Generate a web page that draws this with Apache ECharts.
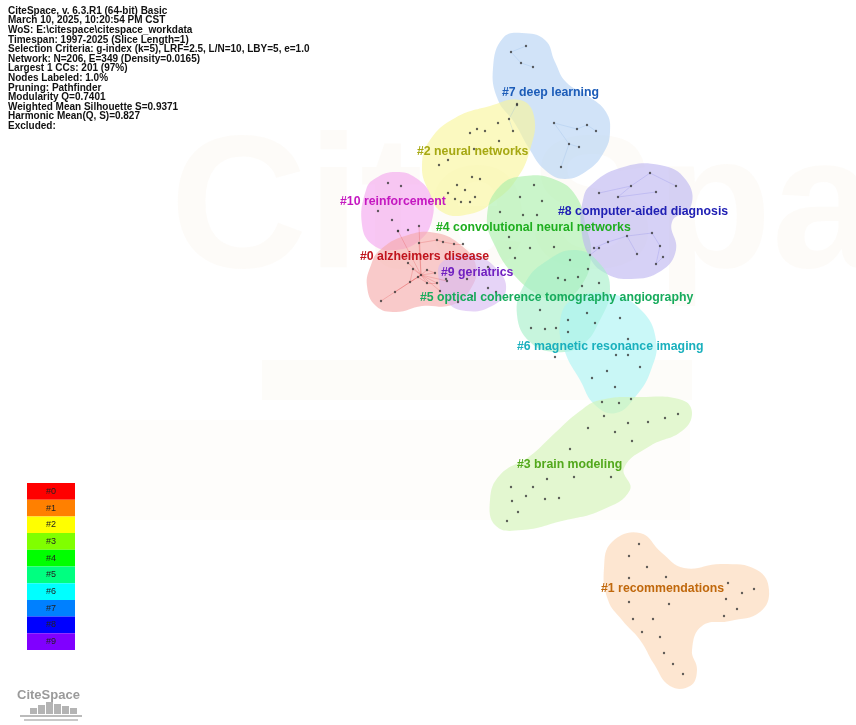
<!DOCTYPE html>
<html>
<head>
<meta charset="utf-8">
<script src="https://cdn.jsdelivr.net/npm/echarts@6/dist/echarts.min.js"></script>
<style>
  html, body { margin: 0; padding: 0; background: #fff; }
  #main { width: 856px; height: 725px; }
</style>
</head>
<body>
<div id="main"></div>
<script>
// cluster names and the palette of the CiteSpace legend
var clusterNames = ['#0 alzheimers disease', '#1 recommendations', '#2 neural networks', '#3 brain modeling',
    '#4 convolutional neural networks', '#5 optical coherence tomography angiography',
    '#6 magnetic resonance imaging', '#7 deep learning', '#8 computer-aided diagnosis', '#9 geriatrics',
    '#10 reinforcement'];
var legendIds = ['#0', '#1', '#2', '#3', '#4', '#5', '#6', '#7', '#8', '#9'];
var legendColors = ['#ff0000', '#ff8000', '#ffff00', '#80ff00', '#00ff00', '#00ff80', '#00ffff', '#0080ff', '#0000ff', '#8000ff'];
var hullColors = ['#f6a9a9', '#fcd6b4', '#f8f69a', '#d2f4b4', '#a9efa9', '#a5efc8', '#a9f4f4', '#b4d2f4', '#bdb4f0', '#d6b9f2', '#f4a4ef'];
var labelColors = ['#c0141c', '#c0680c', '#a6a812', '#52a81c', '#1fae1f', '#17ab5c', '#1ab0bd', '#1c5cb8', '#2020b4', '#7020c0', '#c418c0'];

// label anchor points (left / middle) in picture coordinates
var labelAnchors = [[360, 257], [601, 589], [417, 152], [517, 465], [436, 228], [420, 298], [517, 347], [502, 93], [558, 212], [441, 273], [340, 202]];

// cluster outlines
var hull0 = [[380, 250], [405, 236], [436, 233], [462, 246], [476, 266], [470, 290], [452, 305], [422, 306], [396, 312], [376, 306], [367, 286], [371, 265]];
var hull1 = [[612, 542], [640, 533], [662, 553], [684, 568], [722, 564], [757, 570], [769, 590], [760, 612], [730, 621], [702, 626], [692, 650], [697, 670], [690, 686], [670, 686], [654, 664], [640, 640], [622, 620], [608, 600], [604, 568]];
var hull2 = [[430, 140], [455, 118], [490, 106], [520, 100], [534, 116], [530, 150], [516, 180], [496, 200], [470, 214], [442, 212], [428, 190], [422, 165]];
var hull3 = [[600, 400], [640, 397], [682, 400], [692, 413], [682, 431], [650, 446], [624, 468], [630, 490], [602, 510], [562, 521], [522, 530], [496, 526], [490, 500], [500, 475], [530, 456], [556, 432], [580, 411]];
var hull4 = [[500, 186], [525, 176], [556, 180], [576, 196], [586, 226], [591, 256], [581, 286], [561, 300], [541, 296], [515, 276], [495, 246], [487, 216]];
var hull5 = [[545, 262], [576, 250], [601, 265], [610, 290], [600, 320], [582, 345], [556, 352], [530, 342], [517, 315], [524, 285]];
var hull6 = [[572, 300], [610, 294], [641, 310], [656, 340], [651, 370], [636, 396], [616, 413], [595, 405], [580, 380], [565, 352], [560, 322]];
var hull7 = [[503, 38], [522, 33], [545, 40], [555, 62], [566, 82], [588, 96], [606, 112], [610, 132], [604, 152], [588, 170], [565, 179], [545, 170], [530, 150], [514, 122], [498, 100], [493, 68]];
var hull8 = [[590, 186], [620, 168], [660, 165], [686, 180], [691, 206], [672, 222], [676, 250], [661, 271], [631, 279], [605, 273], [589, 256], [581, 226], [583, 200]];
var hull9 = [[442, 262], [471, 255], [496, 268], [506, 290], [492, 306], [466, 311], [446, 301], [439, 281]];
var hull10 = [[366, 190], [376, 178], [396, 172], [416, 178], [431, 196], [432, 220], [420, 240], [396, 250], [373, 245], [362, 225]];

// nodes per cluster
var nodes0 = [[398, 231], [419, 226], [437, 240], [419, 243], [443, 242], [454, 244], [463, 244], [408, 263], [413, 269], [427, 270], [435, 273], [418, 277], [427, 283], [437, 283], [410, 282], [395, 292], [381, 301], [440, 291], [447, 281], [421, 275]];
var nodes1 = [[639, 544], [629, 556], [647, 567], [666, 577], [629, 578], [728, 583], [742, 593], [754, 589], [726, 599], [629, 602], [669, 604], [737, 609], [724, 616], [653, 619], [633, 619], [642, 632], [660, 637], [664, 653], [673, 664], [683, 674]];
var nodes2 = [[470, 133], [477, 129], [485, 131], [499, 141], [474, 149], [448, 160], [439, 165], [472, 177], [480, 179], [457, 185], [465, 190], [448, 193], [475, 197], [455, 199], [461, 202], [470, 202]];
var nodes3 = [[604, 416], [628, 423], [648, 422], [665, 418], [678, 414], [588, 428], [615, 432], [632, 441], [570, 449], [574, 477], [611, 477], [547, 479], [533, 487], [511, 487], [526, 496], [545, 499], [559, 498], [512, 501], [518, 512], [507, 521]];
var nodes4 = [[534, 185], [520, 197], [542, 201], [500, 212], [523, 215], [537, 215], [509, 237], [530, 248], [554, 247], [510, 248], [515, 258], [558, 278], [578, 277], [588, 269], [570, 260]];
var nodes5 = [[565, 280], [582, 286], [599, 283], [540, 310], [568, 320], [587, 313], [595, 323], [531, 328], [545, 329], [556, 328], [568, 332], [555, 357]];
var nodes6 = [[620, 318], [628, 339], [616, 355], [628, 355], [640, 367], [607, 371], [592, 378], [615, 387], [602, 402], [619, 403], [631, 399]];
var nodes7 = [[511, 52], [526, 46], [521, 63], [533, 67], [517, 104], [509, 119], [513, 131], [554, 123], [577, 129], [587, 125], [596, 131], [569, 144], [579, 147], [561, 167], [517, 105], [498, 123]];
var nodes8 = [[650, 173], [631, 186], [676, 186], [599, 193], [618, 197], [656, 192], [652, 233], [627, 236], [660, 246], [608, 242], [594, 248], [599, 248], [590, 255], [637, 254], [656, 264], [663, 257]];
var nodes9 = [[446, 279], [467, 279], [488, 267], [488, 288], [472, 296], [458, 302], [496, 292]];
var nodes10 = [[388, 183], [401, 186], [378, 211], [398, 231], [408, 230], [392, 220]];

// links of the dense #0 hub (node index pairs inside nodes0)
var links0 = [[19, 7], [19, 8], [19, 9], [19, 10], [19, 11], [19, 12], [19, 13], [19, 14], [19, 15], [19, 16], [19, 17], [19, 18], [19, 1], [19, 3], [19, 0], [9, 10], [8, 14], [12, 13], [3, 2], [2, 4], [4, 5], [5, 6], [11, 12]];
// a few faint links inside #8 and #7
var links8 = [[0, 1], [0, 2], [1, 3], [1, 4], [4, 5], [6, 7], [6, 8], [7, 9], [9, 10], [10, 11], [11, 12], [8, 14], [14, 15], [13, 7]];
var links7 = [[0, 1], [0, 2], [2, 3], [4, 5], [5, 6], [7, 8], [8, 9], [9, 10], [11, 12], [7, 11], [11, 13]];

var infoLines = [
    'CiteSpace, v. 6.3.R1 (64-bit) Basic',
    'March 10, 2025, 10:20:54 PM CST',
    'WoS: E:\\citespace\\citespace_workdata',
    'Timespan: 1997-2025 (Slice Length=1)',
    'Selection Criteria: g-index (k=5), LRF=2.5, L/N=10, LBY=5, e=1.0',
    'Network: N=206, E=349 (Density=0.0165)',
    'Largest 1 CCs: 201 (97%)',
    'Nodes Labeled: 1.0%',
    'Pruning: Pathfinder',
    'Modularity Q=0.7401',
    'Weighted Mean Silhouette S=0.9371',
    'Harmonic Mean(Q, S)=0.827',
    'Excluded:'
];

var hulls = [hull0, hull1, hull2, hull3, hull4, hull5, hull6, hull7, hull8, hull9, hull10];
var nodeSets = [nodes0, nodes1, nodes2, nodes3, nodes4, nodes5, nodes6, nodes7, nodes8, nodes9, nodes10];
var drawOrder = [7, 2, 10, 4, 8, 0, 9, 5, 6, 3, 1];

var chart = echarts.init(document.getElementById('main'));

var series = [];

// blobs
drawOrder.forEach(function (c) {
    series.push({
        type: 'custom',
        silent: true,
        z: 1,
        data: [c],
        renderItem: function (params, api) {
            var pts = hulls[c].map(function (p) { return api.coord(p); });
            return {
                type: 'polygon',
                shape: { points: pts, smooth: 0.45 },
                style: { fill: hullColors[c], opacity: 0.62 }
            };
        }
    });
});

function linkSeries(nodes, links, color, op) {
    return {
        type: 'lines',
        coordinateSystem: 'cartesian2d',
        silent: true,
        z: 2,
        lineStyle: { color: color, width: 0.6, opacity: op },
        data: links.map(function (l) { return { coords: [nodes[l[0]], nodes[l[1]]] }; })
    };
}
series.push(linkSeries(nodes0, links0, '#e05050', 0.45));
series.push(linkSeries(nodes8, links8, '#7070e0', 0.35));
series.push(linkSeries(nodes7, links7, '#70a0e0', 0.3));

// nodes
nodeSets.forEach(function (ns) {
    series.push({
        type: 'scatter',
        silent: true,
        z: 3,
        symbolSize: 2.4,
        itemStyle: { color: '#3a3a3a' },
        data: ns
    });
});

// cluster labels
series.push({
    type: 'custom',
    silent: true,
    z: 5,
    data: clusterNames.map(function (n, i) { return [labelAnchors[i][0], labelAnchors[i][1], i]; }),
    renderItem: function (params, api) {
        var i = api.value(2);
        var p = api.coord([api.value(0), api.value(1)]);
        return {
            type: 'text',
            x: p[0], y: p[1],
            style: {
                text: clusterNames[i],
                fill: labelColors[i],
                font: 'bold 12.3px "Liberation Sans", Arial, sans-serif',
                align: 'left',
                verticalAlign: 'middle'
            }
        };
    }
});

// colour legend cells
series.push({
    type: 'custom',
    silent: true,
    z: 5,
    data: legendIds.map(function (id, i) { return [i]; }),
    renderItem: function (params, api) {
        var i = api.value(0);
        var cellH = 16.7;
        var tl = api.coord([27, 483 + i * cellH]);
        var br = api.coord([75, 483 + (i + 1) * cellH]);
        return {
            type: 'group',
            children: [
                { type: 'rect', shape: { x: tl[0], y: tl[1], width: br[0] - tl[0], height: br[1] - tl[1] }, style: { fill: legendColors[i] } },
                { type: 'text', x: (tl[0] + br[0]) / 2, y: (tl[1] + br[1]) / 2,
                  style: { text: legendIds[i], fill: '#222', font: '9px "Liberation Sans", Arial', align: 'center', verticalAlign: 'middle' } }
            ]
        };
    }
});

var logoBars = [];
[[30, 708, 6], [38, 705, 9], [46, 702, 12], [54, 704, 10], [62, 706, 8], [70, 708, 6]].forEach(function (b) {
    logoBars.push({ type: 'rect', shape: { x: b[0], y: b[1], width: 7, height: b[2] }, style: { fill: '#b4b4b4' } });
});

var option = {
    animation: false,
    backgroundColor: '#ffffff',
    grid: { left: 0, right: 0, top: 0, bottom: 0 },
    xAxis: { type: 'value', min: 0, max: 856, show: false },
    yAxis: { type: 'value', min: 0, max: 725, inverse: true, show: false },
    graphic: [
        // faint watermark
        { type: 'text', left: 170, top: 120, z: 0, silent: true,
          style: { text: 'CiteSpace', fill: 'rgba(225,200,150,0.07)', font: 'bold 190px "Liberation Sans", Arial' } },
        { type: 'rect', z: 0, silent: true, shape: { x: 262, y: 360, width: 430, height: 40 }, style: { fill: 'rgba(235,215,180,0.08)' } },
        { type: 'rect', z: 0, silent: true, shape: { x: 110, y: 420, width: 580, height: 100 }, style: { fill: 'rgba(235,215,180,0.06)' } },
        // run info
        { type: 'text', left: 8, top: 6, z: 10,
          style: { text: infoLines.join('\n'), fill: '#111', font: 'bold 10px "Liberation Sans", Arial', lineHeight: 9.6 } },
        // CiteSpace logo
        { type: 'text', left: 17, top: 689, z: 10,
          style: { text: 'CiteSpace', fill: '#9a9a9a', font: 'bold 13px "Liberation Sans", Arial' } },
        { type: 'group', z: 10, children: logoBars },
        { type: 'rect', z: 10, shape: { x: 20, y: 715, width: 62, height: 2 }, style: { fill: '#bbbbbb' } },
        { type: 'rect', z: 10, shape: { x: 24, y: 719, width: 54, height: 2 }, style: { fill: '#c8c8c8' } }
    ],
    series: series
};

chart.setOption(option);
</script>
</body>
</html>
